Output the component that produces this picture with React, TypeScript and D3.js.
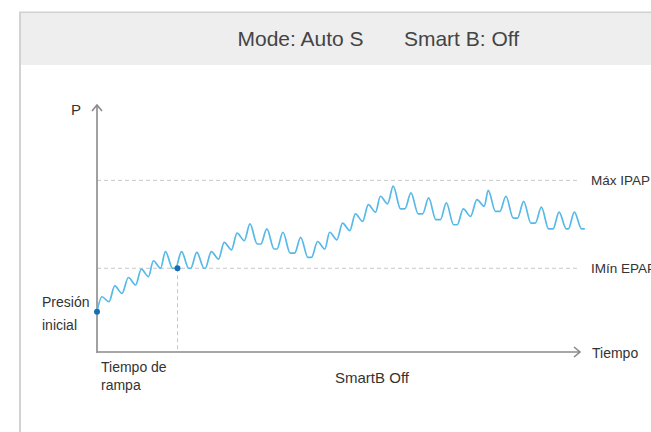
import React, { useEffect, useRef } from 'react';
import * as d3 from 'd3';

// breath peaks (time) with peak pressure and pressure it falls back to
const breathTimes = [
  0.6, 2.2, 3.9, 5.5, 7.0, 8.5, 10.5, 12.4, 14.2, 15.8, 17.4, 19.0, 21.1, 23.1, 25.3, 27.4, 28.9,
  30.5, 32.1, 33.7, 35.2, 36.8, 39.0, 41.2, 43.4, 45.5, 47.2, 48.6, 50.8, 53.0, 55.2, 57.4, 59.3
];
const breathPeaks = [
  6.6, 7.9, 8.9, 9.9, 10.9, 12.0, 12.0, 11.9, 12.0, 13.1, 14.2, 15.3, 14.7, 14.3, 13.7, 13.2, 14.3,
  15.4, 16.5, 17.6, 18.6, 19.8, 19.0, 18.4, 17.8, 17.1, 18.2, 19.3, 18.6, 18.0, 17.3, 16.7, 16.7
];
const breathTroughs = [
  6.0, 7.0, 8.0, 9.0, 10.0, 10.0, 10.0, 10.0, 11.1, 12.2, 13.3, 12.9, 12.3, 11.8, 11.3, 12.3, 13.4,
  14.5, 15.6, 16.7, 17.7, 17.1, 16.5, 15.8, 15.2, 16.2, 17.4, 16.8, 16.0, 15.4, 14.7, 14.7, 14.7
];

const initialPressure = 4.8;
const rampTime = 10;
const minEpap = 10;
const maxIpap = 20.5;
const endTime = 60.6;

const headerLabels = ['Mode: Auto S', 'Smart B: Off'];

const FONT = '"Liberation Sans", Arial, sans-serif';

const App = () => {
  const ref = useRef<SVGSVGElement>(null);

  useEffect(() => {
    drawChart();
  });

  const drawChart = () => {
    const svg = d3.select(ref.current);
    svg.selectAll('*').remove();

    const axisColor = '#8a8a8a';
    const x = d3.scaleLinear().domain([0, 60]).range([97, 580]);
    const y = d3.scaleLinear().domain([0, 29.5]).range([352, 105]);

    // panel + header band
    svg
      .append('rect')
      .attr('x', 20)
      .attr('y', 12.5)
      .attr('width', 700)
      .attr('height', 500)
      .attr('fill', '#fff')
      .attr('stroke', '#d2d2d2')
      .attr('stroke-width', 2);
    svg
      .append('rect')
      .attr('x', 21)
      .attr('y', 13.5)
      .attr('width', 700)
      .attr('height', 51.5)
      .attr('fill', '#eeeeee');

    const headerX = [300.5, 461.5];
    svg
      .selectAll('text.hdr')
      .data(headerLabels)
      .join('text')
      .attr('class', 'hdr')
      .attr('x', (d, i) => headerX[i])
      .attr('y', 46)
      .attr('text-anchor', 'middle')
      .attr('font-family', FONT)
      .attr('font-size', 21)
      .attr('fill', '#444')
      .text(d => d);

    // reference dashed lines
    const dash = svg.append('g').attr('stroke', '#c8c8c8').attr('stroke-dasharray', '4,3').attr('stroke-width', 1);
    [maxIpap, minEpap].forEach(v => {
      dash
        .append('line')
        .attr('x1', x(0))
        .attr('x2', 577)
        .attr('y1', y(v))
        .attr('y2', y(v));
    });
    dash
      .append('line')
      .attr('x1', x(rampTime))
      .attr('x2', x(rampTime))
      .attr('y1', y(minEpap))
      .attr('y2', y(0));

    // axes with arrows
    const ax = svg.append('g').attr('stroke', axisColor).attr('stroke-width', 1.6).attr('fill', 'none');
    ax.append('line').attr('x1', x(0)).attr('x2', x(0)).attr('y1', y(0) + 1).attr('y2', y(29.5));
    ax.append('line').attr('x1', x(0)).attr('x2', x(60)).attr('y1', y(0)).attr('y2', y(0));
    ax.append('path').attr('d', `M${x(0) - 5},${y(29.5) + 6}L${x(0)},${y(29.5)}L${x(0) + 5},${y(29.5) + 6}`);
    ax.append('path').attr('d', `M${x(60) - 6},${y(0) - 5}L${x(60)},${y(0)}L${x(60) - 6},${y(0) + 5}`);

    // pressure waveform
    const rise = 0.75;
    const fall = 0.9;
    const pts: [number, number][] = [[0, initialPressure]];
    let level = initialPressure;
    breathTimes.forEach((t, i) => {
      const start = t - rise;
      if (start > pts[pts.length - 1][0] + 0.1) pts.push([start, level]);
      pts.push([t, breathPeaks[i]]);
      pts.push([t + fall, breathTroughs[i]]);
      level = breathTroughs[i];
    });
    pts.push([endTime, level]);

    const line = d3
      .line<[number, number]>()
      .x(d => x(d[0]))
      .y(d => y(d[1]))
      .curve(d3.curveMonotoneX);
    svg
      .append('path')
      .datum(pts)
      .attr('d', line)
      .attr('fill', 'none')
      .attr('stroke', '#56b9e8')
      .attr('stroke-width', 1.7);

    // markers
    svg
      .selectAll('circle')
      .data([
        [0, initialPressure],
        [rampTime, minEpap]
      ])
      .join('circle')
      .attr('cx', d => x(d[0]))
      .attr('cy', d => y(d[1]))
      .attr('r', 3)
      .attr('fill', '#1a6db3');

    // labels
    const labels: { t: string; x: number; y: number; size: number; anchor?: string }[] = [
      { t: 'P', x: 76, y: 115, size: 15, anchor: 'middle' },
      { t: 'Máx IPAP', x: 591, y: y(maxIpap) + 5, size: 13.5 },
      { t: 'IMín EPAP', x: 591, y: y(minEpap) + 5, size: 13.5 },
      { t: 'Tiempo', x: 592, y: y(0) + 6, size: 14 },
      { t: 'Presión', x: 42, y: 307, size: 14 },
      { t: 'inicial', x: 42, y: 330, size: 14 },
      { t: 'Tiempo de', x: 101, y: 372, size: 14 },
      { t: 'rampa', x: 101, y: 390, size: 14 },
      { t: 'SmartB Off', x: 372, y: 383, size: 15, anchor: 'middle' }
    ];
    svg
      .selectAll('text.lbl')
      .data(labels)
      .join('text')
      .attr('class', 'lbl')
      .attr('x', d => d.x)
      .attr('y', d => d.y)
      .attr('text-anchor', d => d.anchor || 'start')
      .attr('font-family', FONT)
      .attr('font-size', d => d.size)
      .attr('fill', '#333')
      .text(d => d.t);
  };

  return (
    <svg
      ref={ref}
      width={651}
      height={432}
      style={{ position: 'absolute', left: 0, top: 0, background: '#fff' }}
    />
  );
};

export default App;
